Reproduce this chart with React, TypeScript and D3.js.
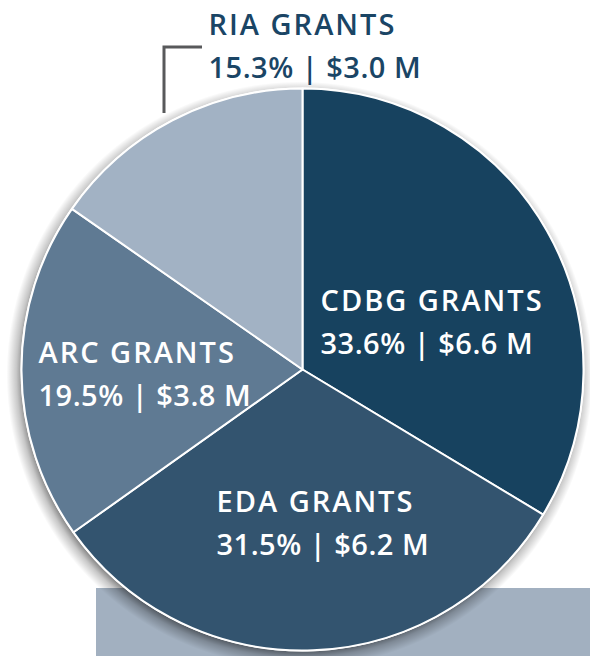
import React from "react";
import * as d3 from "d3";

const categories = ["CDBG GRANTS", "EDA GRANTS", "ARC GRANTS", "RIA GRANTS"];
const shares = [33.6, 31.5, 19.5, 15.3];
const amounts = ["$6.6 M", "$6.2 M", "$3.8 M", "$3.0 M"];
const colors = ["#17425f", "#33546f", "#5f7a93", "#a2b2c4"];

// label layout (offsets from pie centre, left-aligned text)
const labelOffsets: [number, number][] = [
  [18, -59],
  [-86, 142],
  [-264, -7],
  [-94, -335],
];
const labelColors = ["#ffffff", "#ffffff", "#ffffff", "#1a4565"];

const W = 590;
const H = 656;
const cx = 302.5;
const cy = 369.5;
const R = 281;
const SH = 12;

export default function App() {
  const pie = d3.pie<number>().sort(null).value((d) => d);
  const arcs = pie(shares);
  const arcGen = d3.arc<d3.PieArcDatum<number>>().innerRadius(0).outerRadius(R);
  const inner = (R - 8) / (R + SH);

  return (
    <div style={{ position: "absolute", left: 0, top: 0, width: W, height: H, overflow: "hidden" }}>
      <svg width={W} height={H} style={{ display: "block" }}>
        <defs>
          <radialGradient id="shadowGrad" cx="50%" cy="50%" r="50%">
            <stop offset={0} stopColor="#000" stopOpacity={0.6} />
            <stop offset={inner} stopColor="#000" stopOpacity={0.6} />
            <stop offset={(inner + 1) / 2} stopColor="#000" stopOpacity={0.22} />
            <stop offset={1} stopColor="#000" stopOpacity={0} />
          </radialGradient>
        </defs>
        <rect x={96} y={588} width={W - 96} height={H - 588} fill="#a2b0c0" />
        <circle cx={cx - 3} cy={cy + 5} r={R + SH} fill="url(#shadowGrad)" />
        <circle cx={cx} cy={cy} r={R + 1} fill="#ffffff" />
        <g transform={`translate(${cx},${cy})`}>
          {arcs.map((a, i) => (
            <path key={i} d={arcGen(a) as string} fill={colors[i]} stroke="#ffffff" strokeWidth={2} strokeLinejoin="round" />
          ))}
        </g>
        <path d="M164,113 V47 H202" fill="none" stroke="#58595b" strokeWidth={3} />
        {categories.map((c, i) => {
          const x = cx + labelOffsets[i][0];
          const y = cy + labelOffsets[i][1];
          return (
            <text key={c} fill={labelColors[i]} fontFamily="'Open Sans', sans-serif" fontWeight={600} fontSize={29}>
              <tspan x={x} y={y} letterSpacing={2}>{c}</tspan>
              <tspan x={x} y={y + 43} letterSpacing={0.5}>{`${shares[i].toFixed(1)}% | ${amounts[i]}`}</tspan>
            </text>
          );
        })}
      </svg>
    </div>
  );
}
